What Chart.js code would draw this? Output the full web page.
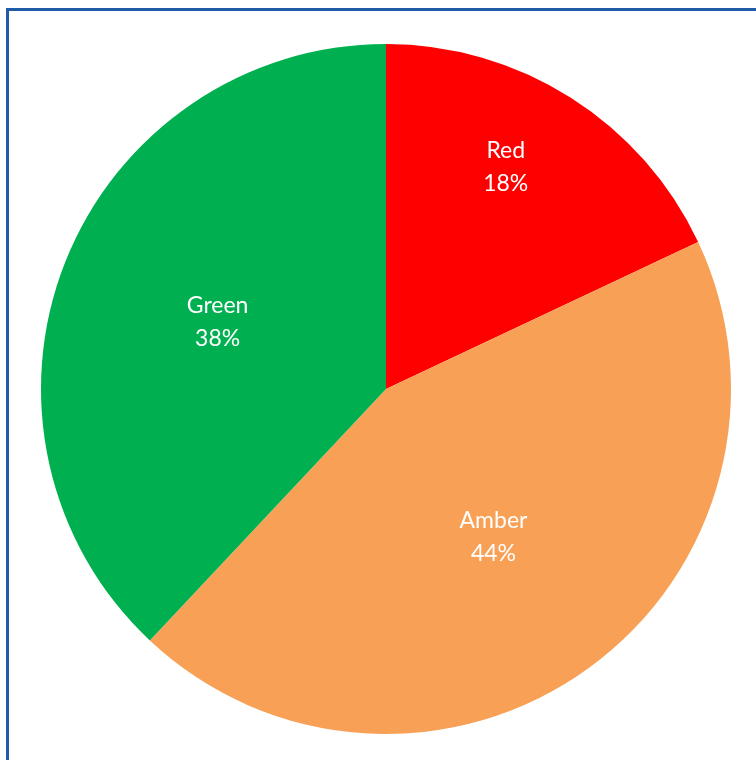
<!DOCTYPE html>
<html>
<head>
<meta charset="utf-8">
<title>RAG status</title>
<script src="https://cdn.jsdelivr.net/npm/chart.js@4.4.1/dist/chart.umd.min.js"></script>
<style>
    html, body {
        margin: 0;
        padding: 0;
        background: #ffffff;
        overflow: hidden;
    }
    .frame {
        position: absolute;
        left: 6px;
        top: 8px;
        width: 820px;
        height: 820px;
        border: 3px solid #1f5ba8;
        box-sizing: border-box;
    }
    .chart-box {
        position: absolute;
        left: 0;
        top: 0;
        width: 756px;
        height: 760px;
    }
</style>
</head>
<body>
<div class="frame"></div>
<div class="chart-box">
    <canvas id="ragChart"></canvas>
</div>
<script>
// RAG breakdown (percent of items)
const categories = ['Red', 'Amber', 'Green'];
const shares = [18, 44, 38];
const sliceColors = ['#ff0000', '#f8a055', '#00b050'];

// Draws "Name / NN%" inside each slice, at a fraction of the radius
const sliceLabels = {
    id: 'sliceLabels',
    afterDatasetsDraw(chart, args, opts) {
        const ctx = chart.ctx;
        const meta = chart.getDatasetMeta(0);
        const total = shares.reduce((a, b) => a + b, 0);
        ctx.save();
        ctx.fillStyle = opts.color;
        ctx.font = opts.font;
        ctx.textAlign = 'center';
        ctx.textBaseline = 'middle';
        meta.data.forEach((arc, i) => {
            const p = arc.getProps(['x', 'y', 'startAngle', 'endAngle', 'outerRadius'], true);
            const mid = (p.startAngle + p.endAngle) / 2 + (opts.angleShift[i] || 0);
            const r = p.outerRadius * opts.radiusFraction[i];
            const cx = p.x + Math.cos(mid) * r;
            const cy = p.y + Math.sin(mid) * r;
            const pct = Math.round(shares[i] / total * 100) + '%';
            ctx.fillText(categories[i], cx, cy - opts.lineGap / 2);
            ctx.fillText(pct, cx, cy + opts.lineGap / 2);
        });
        ctx.restore();
    }
};

const ctx = document.getElementById('ragChart').getContext('2d');
new Chart(ctx, {
    type: 'pie',
    data: {
        labels: categories,
        datasets: [{
            data: shares,
            backgroundColor: sliceColors,
            borderWidth: 0
        }]
    },
    options: {
        responsive: true,
        maintainAspectRatio: false,
        animation: false,
        rotation: 0,
        layout: {
            padding: { left: 41, right: 25, top: 44, bottom: 26 }
        },
        plugins: {
            legend: { display: false },
            tooltip: { enabled: false },
            sliceLabels: {
                color: '#ffffff',
                font: '23px Lato',
                lineGap: 33,
                radiusFraction: [0.73, 0.53, 0.525],
                angleShift: [-0.07, 0, 0]
            }
        }
    },
    plugins: [sliceLabels]
});
</script>
</body>
</html>
